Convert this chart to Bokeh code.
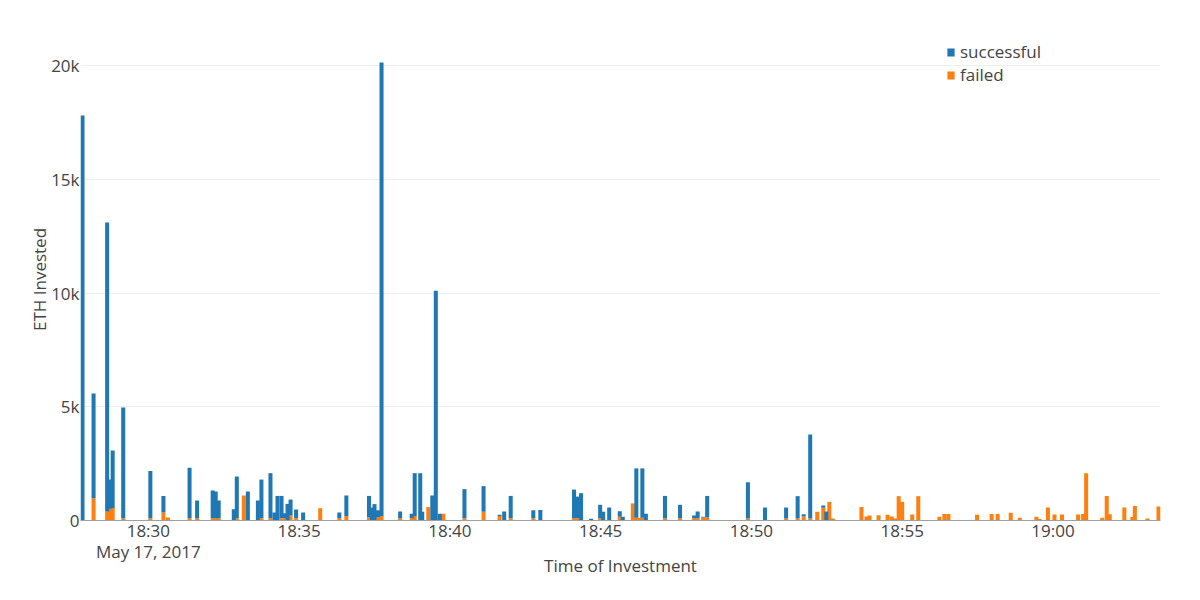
import pandas as pd
from bokeh.plotting import figure
from bokeh.models import (ColumnDataSource, Range1d, FixedTicker, DatetimeTickFormatter,
                          DatetimeAxis, Legend, LegendItem)
from bokeh.embed import file_html
from bokeh.resources import INLINE

DATE = "2017-05-17"

times = [
    "18:27:49", "18:28:11", "18:28:38", "18:28:43", "18:28:49", "18:29:10", "18:30:04", "18:30:30",
    "18:30:39", "18:31:22", "18:31:37", "18:32:08", "18:32:14", "18:32:20", "18:32:50", "18:32:56",
    "18:33:10", "18:33:18", "18:33:38", "18:33:45", "18:34:03", "18:34:11", "18:34:17", "18:34:25",
    "18:34:32", "18:34:37", "18:34:43", "18:34:54", "18:35:08", "18:35:42", "18:36:20", "18:36:34",
    "18:37:19", "18:37:25", "18:37:30", "18:37:37", "18:37:44", "18:38:21", "18:38:44", "18:38:50",
    "18:39:01", "18:39:05", "18:39:17", "18:39:25", "18:39:32", "18:39:40", "18:39:47", "18:40:29",
    "18:41:07", "18:41:39", "18:41:48", "18:42:01", "18:42:46", "18:43:00", "18:44:07", "18:44:14",
    "18:44:21", "18:44:41", "18:44:59", "18:45:05", "18:45:17", "18:45:38", "18:45:44", "18:46:04",
    "18:46:11", "18:46:17", "18:46:23", "18:46:30", "18:47:08", "18:47:38", "18:48:06", "18:48:13",
    "18:48:24", "18:48:32", "18:49:53", "18:50:27", "18:51:09", "18:51:32", "18:51:44", "18:51:57",
    "18:52:11", "18:52:23", "18:52:29", "18:52:35", "18:52:42", "18:53:39", "18:53:49", "18:53:55",
    "18:54:13", "18:54:31", "18:54:39", "18:54:46", "18:54:53", "18:55:00", "18:55:20", "18:55:32",
    "18:56:14", "18:56:24", "18:56:32", "18:57:29", "18:57:58", "18:58:10", "18:58:36", "18:58:54",
    "18:59:27", "18:59:33", "18:59:50", "19:00:03", "19:00:18", "19:00:50", "19:01:00", "19:01:06",
    "19:01:38", "19:01:47", "19:01:53", "19:02:22", "19:02:38", "19:02:43", "19:03:08", "19:03:30",
]

successful = [
    17800, 4600, 12700, 1280, 2530, 4870, 2080, 730,
    0, 2220, 780, 1220, 1170, 780, 500, 1830,
    0, 1270, 880, 1700, 1980, 350, 1080, 980,
    220, 730, 700, 380, 350, 0, 250, 900,
    950, 570, 720, 320, 19930, 300, 200, 1880,
    2080, 380, 0, 1100, 10100, 300, 0, 1280,
    1130, 50, 400, 980, 350, 460, 1260, 950,
    1200, 80, 590, 380, 570, 250, 170, 0,
    2170, 0, 2170, 300, 980, 590, 120, 300,
    40, 950, 1590, 570, 480, 980, 100, 3690,
    0, 100, 400, 0, 0, 0, 0, 0,
    0, 0, 0, 0, 0, 0, 0, 0,
    0, 0, 0, 0, 0, 0, 0, 0,
    0, 0, 0, 0, 0, 0, 0, 0,
    0, 0, 0, 0, 0, 0, 0, 0,
]

failed = [
    0, 980, 400, 520, 550, 100, 100, 350,
    130, 100, 100, 100, 100, 100, 0, 100,
    1100, 0, 0, 100, 100, 0, 0, 100,
    100, 0, 220, 100, 0, 540, 100, 200,
    130, 0, 0, 130, 200, 100, 100, 200,
    0, 0, 590, 0, 0, 0, 300, 100,
    380, 200, 0, 100, 100, 0, 100, 100,
    0, 0, 100, 0, 0, 160, 0, 750,
    120, 120, 120, 0, 100, 100, 100, 100,
    130, 130, 90, 0, 90, 90, 180, 90,
    380, 560, 0, 820, 90, 590, 180, 220,
    230, 250, 180, 90, 1070, 820, 260, 1070,
    160, 290, 290, 250, 290, 290, 340, 120,
    160, 70, 570, 260, 260, 260, 290, 2080,
    120, 1080, 280, 570, 150, 640, 90, 620,
]

y_ticks = [0, 5000, 10000, 15000, 20000]
y_tick_labels = ["0", "5k", "10k", "15k", "20k"]
x_tick_times = ["18:30", "18:35", "18:40", "18:45", "18:50", "18:55", "19:00"]
date_tick_time = "18:30"
x_range_times = ["18:27:45", "19:03:34"]
y_max = 21190

BLUE = "#1f77b4"
ORANGE = "#ff7f0e"
FONT = "Open Sans"
TXT = "#444444"
FS = "17px"


def ms(hms):
    return pd.Timestamp(f"{DATE} {hms}").value / 1e6


t = pd.to_datetime([f"{DATE} {s}" for s in times])
source = ColumnDataSource(dict(t=t, successful=successful, failed=failed))

p = figure(width=1200, height=600, x_axis_type="datetime",
           x_range=Range1d(pd.Timestamp(f"{DATE} {x_range_times[0]}"),
                           pd.Timestamp(f"{DATE} {x_range_times[1]}")),
           y_range=Range1d(0, y_max),
           output_backend="svg", toolbar_location=None,
           min_border_left=80, min_border_right=40, min_border_top=38, min_border_bottom=80)
p.outline_line_color = None
p.background_fill_color = "white"
p.border_fill_color = "white"

renderers = p.vbar_stack(["failed", "successful"], x="t", width=8000, source=source,
                         fill_color=[ORANGE, BLUE], line_color=None)
r_fail, r_succ = renderers

# grids
p.xgrid.grid_line_color = None
p.ygrid.grid_line_color = "#eeeeee"
p.ygrid.ticker = FixedTicker(ticks=y_ticks)

# y axis
yax = p.yaxis[0]
yax.ticker = FixedTicker(ticks=y_ticks)
yax.major_label_overrides = {k: v for k, v in zip(y_ticks, y_tick_labels)}
yax.axis_line_color = None
yax.major_tick_line_color = None
yax.minor_tick_line_color = None
yax.major_tick_out = 0
yax.major_tick_in = 0
yax.major_label_standoff = 1
yax.major_label_text_font = FONT
yax.major_label_text_font_size = FS
yax.major_label_text_color = TXT
yax.axis_label = "ETH Invested"
yax.axis_label_text_font = FONT
yax.axis_label_text_font_size = FS
yax.axis_label_text_font_style = "normal"
yax.axis_label_text_color = TXT
yax.axis_label_standoff = -3

# x axis (time ticks)
xax = p.xaxis[0]
xax.ticker = FixedTicker(ticks=[ms(h) for h in x_tick_times])
xax.formatter = DatetimeTickFormatter(seconds="%H:%M", minsec="%H:%M", minutes="%H:%M",
                                      hourmin="%H:%M", hours="%H:%M")
xax.axis_line_color = "#a0a0a0"
xax.major_tick_line_color = None
xax.minor_tick_line_color = None
xax.major_tick_out = 0
xax.major_tick_in = 0
xax.major_label_standoff = -2
xax.major_label_text_font = FONT
xax.major_label_text_font_size = FS
xax.major_label_text_color = TXT

# second x axis with the date and the title
fmt = "%b %d, %Y"
dax = DatetimeAxis(ticker=FixedTicker(ticks=[ms(date_tick_time)]),
                   formatter=DatetimeTickFormatter(microseconds=fmt, milliseconds=fmt, seconds=fmt,
                                                   minsec=fmt, minutes=fmt, hourmin=fmt, hours=fmt,
                                                   days=fmt, months=fmt, years=fmt))
dax.axis_line_color = None
dax.major_tick_line_color = None
dax.minor_tick_line_color = None
dax.major_tick_out = 0
dax.major_tick_in = 0
dax.major_label_standoff = -5
dax.major_label_text_font = FONT
dax.major_label_text_font_size = FS
dax.major_label_text_color = TXT
dax.axis_label = "Time of Investment"
dax.axis_label_text_font = FONT
dax.axis_label_text_font_size = FS
dax.axis_label_text_font_style = "normal"
dax.axis_label_text_color = TXT
dax.axis_label_standoff = -12
p.add_layout(dax, "below")

legend = Legend(items=[LegendItem(label="successful", renderers=[r_succ]),
                       LegendItem(label="failed", renderers=[r_fail])],
                location=(866, 434), orientation="vertical",
                padding=0, margin=0, spacing=-1, label_height=18,
                glyph_width=9, glyph_height=10, label_standoff=5,
                border_line_color=None, background_fill_alpha=0,
                label_text_font=FONT, label_text_font_size=FS, label_text_color=TXT)
p.add_layout(legend)

open("out.html", "w").write(file_html(p, INLINE))
